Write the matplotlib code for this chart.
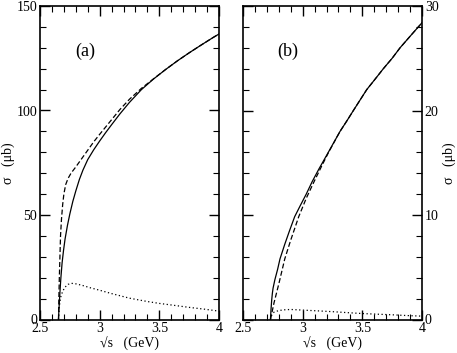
import numpy as np
import matplotlib
matplotlib.use("Agg")
import matplotlib.pyplot as plt
from matplotlib.ticker import MultipleLocator

plt.rcParams["font.family"] = ["Liberation Serif", "DejaVu Serif"]

# panel (a)
a_solid_x = [2.655, 2.658, 2.662, 2.667, 2.675, 2.685, 2.697, 2.71, 2.73, 2.75, 2.775, 2.80, 2.83, 2.86,
             2.90, 2.95, 3.00, 3.05, 3.10, 3.17, 3.25, 3.35, 3.45, 3.55, 3.65, 3.75, 3.85, 3.95, 4.00]
a_solid_y = [0, 4, 8, 13, 20, 27, 33, 38.5, 45, 50.5, 56.5, 61.5, 67, 71.5,
             76.5, 81.2, 85.4, 89.4, 93.2, 98.4, 103.9, 110, 115, 119.5, 123.7, 127.6, 131.3, 134.9, 136.6]
a_dash_x = [2.655, 2.658, 2.662, 2.667, 2.672, 2.68, 2.69, 2.70, 2.715, 2.735, 2.76, 2.80, 2.85, 2.90,
            2.95, 3.00, 3.05, 3.10, 3.17, 3.25, 3.35, 3.45, 3.55, 3.65, 3.75, 3.85, 3.95, 4.00]
a_dash_y = [0, 10, 20, 30, 40, 48, 55, 60, 64.5, 67.5, 70, 73, 77, 81,
            85, 88.6, 92.1, 95.6, 100.5, 105.4, 110.6, 115.1, 119.5, 123.7, 127.6, 131.3, 134.9, 136.6]
a_dot_x = [2.655, 2.658, 2.662, 2.667, 2.675, 2.69, 2.71, 2.735, 2.76, 2.79, 2.85, 2.92, 3.0, 3.1,
           3.25, 3.4, 3.5, 3.62, 3.75, 3.87, 4.0]
a_dot_y = [0, 3, 6, 8.5, 11, 13.5, 15.5, 16.8, 17.3, 17.2, 16.4, 15.2, 14.0, 12.4,
           10.2, 8.6, 7.7, 6.8, 5.8, 5.0, 4.0]

# panel (b)
b_solid_x = [2.73, 2.735, 2.74, 2.746, 2.752, 2.767, 2.79, 2.81, 2.85, 2.89, 2.933, 2.98, 3.03, 3.08,
             3.136, 3.215, 3.313, 3.37, 3.425, 3.537, 3.6, 3.676, 3.75, 3.816, 3.9, 4.0]
b_solid_y = [0, 1.0, 1.8, 2.5, 3.0, 3.8, 4.8, 5.8, 7.2, 8.5, 9.84, 10.9, 12.0, 13.2,
             14.4, 16, 18, 19.0, 20, 22, 22.9, 24, 25.0, 26, 27.1, 28.4]
b_dash_x = [2.73, 2.745, 2.76, 2.78, 2.80, 2.825, 2.85, 2.9, 2.967, 3.03, 3.1, 3.16, 3.215,
            3.313, 3.37, 3.425, 3.537, 3.6, 3.676, 3.75, 3.816, 3.9, 4.0]
b_dash_y = [0, 0.8, 1.6, 2.5, 3.4, 4.6, 5.8, 7.6, 9.84, 11.6, 13.3, 14.7, 15.95,
            18, 19.0, 20, 22, 22.9, 24, 25.0, 26, 27.1, 28.4]
b_dot_x = [2.73, 2.735, 2.74, 2.75, 2.76, 2.8, 2.85, 2.9, 3.0, 3.12, 3.25, 3.37, 3.5, 3.62, 3.75, 3.87, 4.0]
b_dot_y = [0, 0.25, 0.4, 0.58, 0.7, 0.86, 0.93, 0.96, 0.9, 0.83, 0.75, 0.66, 0.57, 0.51, 0.45, 0.38, 0.32]

fig = plt.figure(figsize=(4.57, 3.53), dpi=100)
ax1 = fig.add_axes([40 / 457, 1 - 319.5 / 353, 179 / 457, 313.5 / 353])
ax2 = fig.add_axes([243 / 457, 1 - 319.5 / 353, 179 / 457, 313.5 / 353])

lw = 0.9
ax1.plot(a_solid_x, a_solid_y, color="black", lw=lw)
ax1.plot(a_dash_x, a_dash_y, color="black", lw=lw, dashes=(4, 2))
ax1.plot(a_dot_x, a_dot_y, color="black", lw=lw, dashes=(1, 2))
ax2.plot(b_solid_x, b_solid_y, color="black", lw=lw)
ax2.plot(b_dash_x, b_dash_y, color="black", lw=lw, dashes=(4, 2))
ax2.plot(b_dot_x, b_dot_y, color="black", lw=lw, dashes=(1, 2))

for ax in (ax1, ax2):
    ax.set_xlim(2.5, 4)
    ax.xaxis.set_minor_locator(MultipleLocator(0.1))
    ax.set_xticks([2.5, 3, 3.5, 4])
    ax.set_xticklabels(["2.5", "3", "3.5", "4"])
    ax.tick_params(which="both", direction="in", top=True, right=True, labelsize=10, pad=2)
    ax.tick_params(which="major", length=7, width=1)
    ax.tick_params(which="minor", length=4, width=0.8)
    ax.set_xlabel("\u221as   (GeV)", fontsize=10, labelpad=1)
    for s in ax.spines.values():
        s.set_linewidth(1.2)

ax1.set_ylim(0, 150)
ax1.yaxis.set_major_locator(MultipleLocator(50))
ax1.yaxis.set_minor_locator(MultipleLocator(10))
ax1.set_ylabel("\u03c3   (\u03bcb)", fontsize=10)
ax1.yaxis.set_label_coords(-0.14, 0.5)
ax1.text(2.877, 128.5, "(a)", fontsize=13, ha="center", va="center")

ax2.set_ylim(0, 30)
ax2.yaxis.set_major_locator(MultipleLocator(10))
ax2.yaxis.set_minor_locator(MultipleLocator(2))
ax2.tick_params(labelleft=False, labelright=True)
ax2.yaxis.set_label_position("right")
ax2.set_ylabel("\u03c3   (\u03bcb)", fontsize=10)
ax2.yaxis.set_label_coords(1.117, 0.5)
ax2.text(2.877, 25.65, "(b)", fontsize=13, ha="center", va="center")

fig.savefig("out.png", dpi=100)
